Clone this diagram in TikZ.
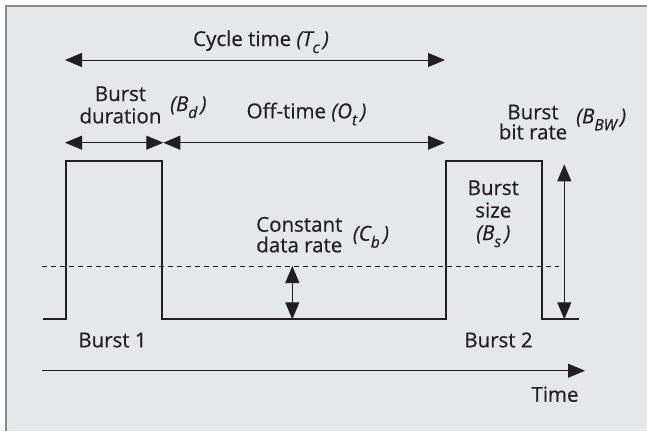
\documentclass[tikz,border=0pt]{standalone}
\usepackage{fontspec}
\setmainfont{Open Sans}[FakeBold=0.5]
\usetikzlibrary{arrows.meta}
\definecolor{panel}{HTML}{E6E7E8}
\definecolor{rim}{HTML}{8C8C8C}
\definecolor{ink}{HTML}{231F20}
% lowered italic subscript used in the symbols
\newcommand\lowsub[1]{\raisebox{-0.34em}{\fontsize{15.5pt}{15.5pt}\selectfont\itshape #1}}
\begin{document}
\begin{tikzpicture}[x=1pt,y=-1pt,
  lbl/.style={anchor=base,inner sep=0pt,text=ink,font=\fontsize{20.5pt}{22pt}\selectfont,align=center},
  sym/.style={anchor=base west,inner sep=0pt,text=ink,font=\fontsize{20.5pt}{22pt}\selectfont\itshape},
  dim/.style={draw=ink,line width=1pt,{Triangle[length=17pt,width=14pt]}-{Triangle[length=17pt,width=14pt]}},
  axis/.style={draw=ink,line width=1pt,-{Triangle[length=17pt,width=14pt]}},
  signal/.style={draw=ink,line width=2pt,miter limit=10},
  level/.style={draw=ink,line width=0.9pt,dash pattern=on 5pt off 4pt}]
\useasboundingbox (0,0) rectangle (647,431);
% panel with its frame on the top and left sides
\fill[white] (0,0) rectangle (647,431);
\fill[panel] (6,6) rectangle (647,431);
\draw[rim,line width=1.8pt] (6,431) -- (6,6) -- (647,6);

% reference points
\coordinate (ctL) at (65,60);
\coordinate (ctR) at (445,60);
\coordinate (bdL) at (65,142.7);
\coordinate (bdR) at (163.3,142.7);
\coordinate (otR) at (445,142.7);
\coordinate (lvL) at (41.7,266);
\coordinate (lvR) at (559.3,266);
\coordinate (cbT) at (292.3,266);
\coordinate (cbB) at (292.3,319.3);
\coordinate (bwT) at (564.3,164.3);
\coordinate (bwB) at (564.3,319.3);
\coordinate (tA) at (42,370.7);
\coordinate (tB) at (585,370.7);

% pulse train
\coordinate (s0) at (42.7,319.3);
\coordinate (s1) at (66,319.3);
\coordinate (s2) at (66,161);
\coordinate (s3) at (161.7,161);
\coordinate (s4) at (161.7,319.3);
\coordinate (s5) at (446,319.3);
\coordinate (s6) at (446,161);
\coordinate (s7) at (542,161);
\coordinate (s8) at (542,319.3);
\coordinate (s9) at (578.7,319.3);
\draw[level] (lvL) -- (lvR);
\draw[signal] (s0) -- (s1) -- (s2) -- (s3) -- (s4) -- (s5) -- (s6) -- (s7) -- (s8) -- (s9);

% dimension arrows
\draw[dim] (ctL) -- (ctR);
\draw[dim] (bdL) -- (bdR);
\draw[dim] (bdR) -- (otR);
\draw[dim] (cbT) -- (cbB);
\draw[dim] (bwT) -- (bwB);
\draw[axis] (tA) -- (tB);

% labels
\node[lbl] (cyc) at (261,46) {Cycle time \textit{(T\lowsub{c}\,)}};
\node[lbl] (bd1) at (120.5,101) {Burst};
\node[lbl] (bd2) at (120.5,123.3) {duration};
\node[sym] (bds) at (170,111) {(B\lowsub{d}\,)};
\node[lbl] (off) at (306.5,118.3) {Off-time \textit{(O\lowsub{t}\,)}};
\node[lbl] (br1) at (533,119.3) {Burst};
\node[lbl] (br2) at (533,139.3) {bit rate};
\node[sym] (brs) at (576,123.3) {(B\lowsub{BW}\,)};
\node[lbl] (bs1) at (493.3,195) {Burst};
\node[lbl] (bs2) at (493.3,217.5) {size};
\node[lbl] (bs3) at (493.3,240) {\textit{(B\lowsub{s}\,)}};
\node[lbl] (cr1) at (299.3,231.7) {Constant};
\node[lbl] (cr2) at (299.3,252.3) {data rate};
\node[sym] (crs) at (352.7,240.7) {(C\lowsub{b}\,)};
\node[lbl] (b1) at (112.5,347.3) {Burst 1};
\node[lbl] (b2) at (498.5,347.3) {Burst 2};
\node[lbl] (tm) at (555,401.7) {Time};
\end{tikzpicture}
\end{document}
